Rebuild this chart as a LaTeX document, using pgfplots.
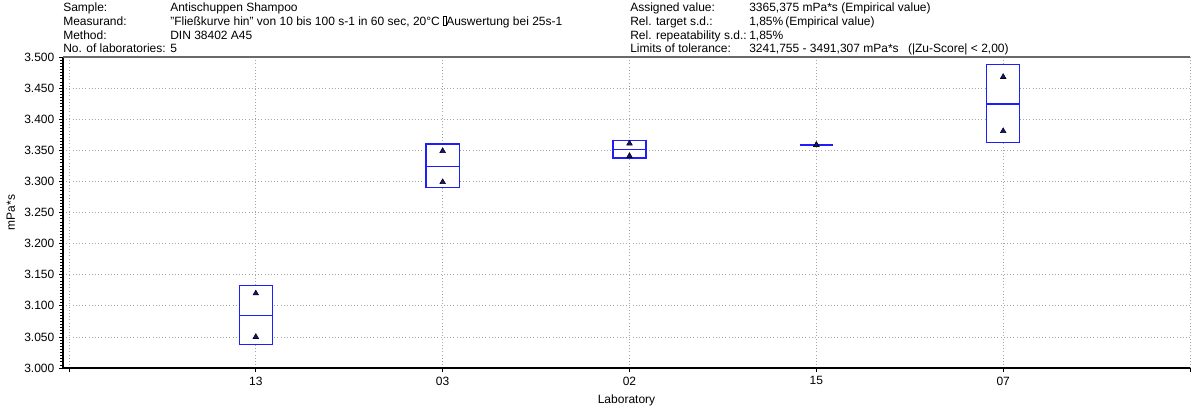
\documentclass[border=0pt]{standalone}
\usepackage{fontspec}
\setmainfont{Liberation Sans}
\usepackage{pgfplots}
\pgfplotsset{compat=1.18}

\definecolor{boxblue}{RGB}{30,30,250}
\definecolor{markfill}{RGB}{20,20,140}
\definecolor{gridgray}{RGB}{165,165,165}
\definecolor{framegray}{RGB}{105,105,105}

% replicate measurements and mean per laboratory (position on the x axis)
\pgfplotstableread{
pos mid    v1     v2
1   3.0850 3.120  3.050
2   3.3240 3.349  3.299
3   3.3510 3.361  3.341
4   3.3585 3.3585 3.3585
5   3.4245 3.468  3.381
}\labdata

% 1 unit = 0.75pt, measured from the top-left corner
\newcommand\hdrfont{\fontsize{9}{10.35}\selectfont}
\newcommand\hdr[3]{%
  \node[anchor=base west, inner sep=0pt, font=\hdrfont] at ({#1*0.75pt},{(408-#2)*0.75pt}) {#3};}
\newcommand\missingglyph{{\setlength\fboxsep{0pt}\setlength\fboxrule{0.35pt}\fbox{\rule{0pt}{6.5pt}\hspace{1.6pt}}}}

\begin{document}
\begin{tikzpicture}
\useasboundingbox (0pt,0pt) rectangle (895.5pt,306pt);

% header block, left
\hdr{63}{11.6}{Sample:}
\hdr{170}{11.6}{Antischuppen Shampoo}
\hdr{63}{25.4}{Measurand:}
\hdr{170}{25.4}{"Fließkurve hin" von 10 bis 100 s-1 in 60 sec, 20°C \missingglyph Auswertung bei 25s-1}
\hdr{63}{39.2}{Method:}
\hdr{170}{39.2}{DIN 38402 A45}
\hdr{63}{53}{No. of laboratories:}
\hdr{170}{53}{5}
% header block, right
\hdr{630}{11.6}{Assigned value:}
\hdr{749}{11.6}{3365,375 mPa*s (Empirical value)}
\hdr{630}{25.4}{Rel. target s.d.:}
\hdr{749}{25.4}{1,85\%\,(Empirical value)}
\hdr{630}{39.2}{Rel. repeatability s.d.:}
\hdr{749}{39.2}{1,85\%}
\hdr{630}{53}{Limits of tolerance:}
\hdr{749}{53}{3241,755 - 3491,307 mPa*s\hspace{7pt}(|Zu-Score| < 2,00)}

\begin{axis}[
  at={(47.25pt,30pt)}, anchor=south west,
  scale only axis, width=845.25pt, height=233.25pt,
  xmin=-0.032, xmax=6, ymin=3, ymax=3.5,
  axis x line=bottom, axis y line=left,
  axis line style={-, line width=1.3pt, black},
  xtick={0,...,6}, xticklabels={{},13,03,02,15,07,{}},
  ytick distance=0.05, minor y tick num=9,
  tick align=outside,
  major tick length=3pt, minor tick length=2pt,
  tick style={black, line width=0.5pt},
  grid=major,
  major grid style={gridgray, dotted, line width=0.6pt},
  /pgf/number format/assume math mode=true,
  tick label style={font=\fontsize{9}{10}\selectfont},
  y tick label style={/pgf/number format/fixed, /pgf/number format/fixed zerofill, /pgf/number format/precision=3},
  label style={font=\fontsize{9}{10}\selectfont},
  xlabel={Laboratory}, ylabel={mPa*s},
  after end axis/.code={
    \draw[framegray, line width=1.3pt] (rel axis cs:0,1) -- (rel axis cs:1,1);
  },
  boxstyle/.style={draw=boxblue, fill=white, line width=0.95pt, line cap=rect, line join=miter, mark=none},
  medstyle/.style={draw=boxblue, line width=0.95pt, mark=none},
]
% boxes: lower and upper limit around the laboratory mean
\addplot[boxstyle] coordinates {(0.9115,3.0375) (1.0885,3.0375) (1.0885,3.1323) (0.9115,3.1323) (0.9115,3.0375)};
\addplot[medstyle] coordinates {(0.9115,3.0850) (1.0885,3.0850)};
\addplot[boxstyle] coordinates {(1.9115,3.2899) (2.0885,3.2899) (2.0885,3.3601) (1.9115,3.3601) (1.9115,3.2899)};
\addplot[medstyle] coordinates {(1.9115,3.3240) (2.0885,3.3240)};
\addplot[boxstyle] coordinates {(2.9115,3.3376) (3.0885,3.3376) (3.0885,3.3654) (2.9115,3.3654) (2.9115,3.3376)};
\addplot[medstyle] coordinates {(2.9115,3.3510) (3.0885,3.3510)};
\addplot[medstyle] coordinates {(3.9115,3.3585) (4.0885,3.3585)};
\addplot[boxstyle] coordinates {(4.9115,3.3622) (5.0885,3.3622) (5.0885,3.4876) (4.9115,3.4876) (4.9115,3.3622)};
\addplot[medstyle] coordinates {(4.9115,3.4245) (5.0885,3.4245)};
% replicate measurements
\addplot[only marks, mark=triangle*, mark size=2.4pt, mark options={fill=markfill, draw=black, line width=0.4pt}]
  table[x=pos, y=v1] {\labdata};
\addplot[only marks, mark=triangle*, mark size=2.4pt, mark options={fill=markfill, draw=black, line width=0.4pt}]
  table[x=pos, y=v2] {\labdata};
\end{axis}
\end{tikzpicture}
\end{document}
